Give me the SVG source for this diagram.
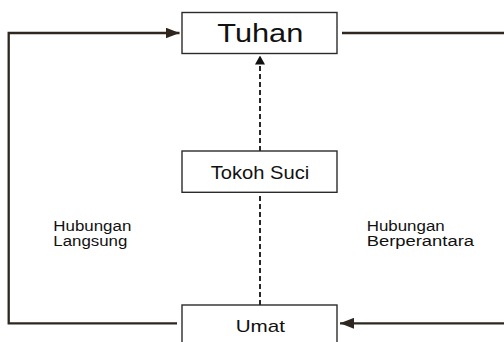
<svg xmlns="http://www.w3.org/2000/svg" width="504" height="342" viewBox="0 0 504 342">
  <style>
    .box { fill: #ffffff; stroke: #2b2b2b; stroke-width: 1.4; }
    .lbl { font-family: "Liberation Sans", Arial, sans-serif; fill: #111111; }
    .side { font-size: 14px; }
    .conn { fill: none; stroke: #2e261f; stroke-width: 2.3; }
    .dash { fill: none; stroke: #111111; stroke-width: 1.8; stroke-dasharray: 5 3; }
  </style>
  <defs>
    <marker id="arrSolid" viewBox="0 0 14 11" refX="14" refY="5.5" markerWidth="14" markerHeight="11" markerUnits="userSpaceOnUse" orient="auto">
      <path d="M0,0 L14,5.5 L0,11 Z" fill="#2e261f"/>
    </marker>
    <marker id="arrDash" viewBox="0 0 9 10" refX="9" refY="5" markerWidth="9" markerHeight="10" markerUnits="userSpaceOnUse" orient="auto">
      <path d="M0,0 L9,5 L0,10 Z" fill="#111111"/>
    </marker>
  </defs>
  <rect width="504" height="342" fill="#ffffff"/>
  <g id="connectors">
    <polyline class="conn" points="177,323.3 8.7,323.3 8.7,33 179.5,33" marker-end="url(#arrSolid)"/>
    <line class="conn" x1="342" y1="33" x2="504" y2="33"/>
    <line class="conn" x1="504" y1="323.3" x2="340" y2="323.3" stroke-width="2.6" marker-end="url(#arrSolid)"/>
    <line class="dash" x1="260" y1="305" x2="260" y2="192.5"/>
    <line class="dash" x1="260" y1="151" x2="260" y2="55.5" marker-end="url(#arrDash)"/>
  </g>
  <g id="tuhan">
    <rect class="box" x="182" y="12.5" width="155" height="41"/>
    <text class="lbl" x="260.3" y="42.3" font-size="25" text-anchor="middle" textLength="86" lengthAdjust="spacingAndGlyphs">Tuhan</text>
  </g>
  <g id="tokoh-suci">
    <rect class="box" x="182" y="151" width="155" height="41.3"/>
    <text class="lbl" x="260" y="178.5" font-size="19" text-anchor="middle" textLength="98.6" lengthAdjust="spacingAndGlyphs">Tokoh Suci</text>
  </g>
  <g id="umat">
    <rect class="box" x="182" y="305" width="155" height="50"/>
    <text class="lbl" x="260.3" y="331.7" font-size="17" text-anchor="middle" textLength="49.3" lengthAdjust="spacingAndGlyphs">Umat</text>
  </g>
  <g id="label-langsung">
    <text class="lbl side" x="53.3" y="230.5" textLength="78" lengthAdjust="spacingAndGlyphs">Hubungan</text>
    <text class="lbl side" x="53.3" y="246" textLength="74" lengthAdjust="spacingAndGlyphs">Langsung</text>
  </g>
  <g id="label-berperantara">
    <text class="lbl side" x="366.7" y="230.5" textLength="78" lengthAdjust="spacingAndGlyphs">Hubungan</text>
    <text class="lbl side" x="366.7" y="246" textLength="107.3" lengthAdjust="spacingAndGlyphs">Berperantara</text>
  </g>
</svg>
